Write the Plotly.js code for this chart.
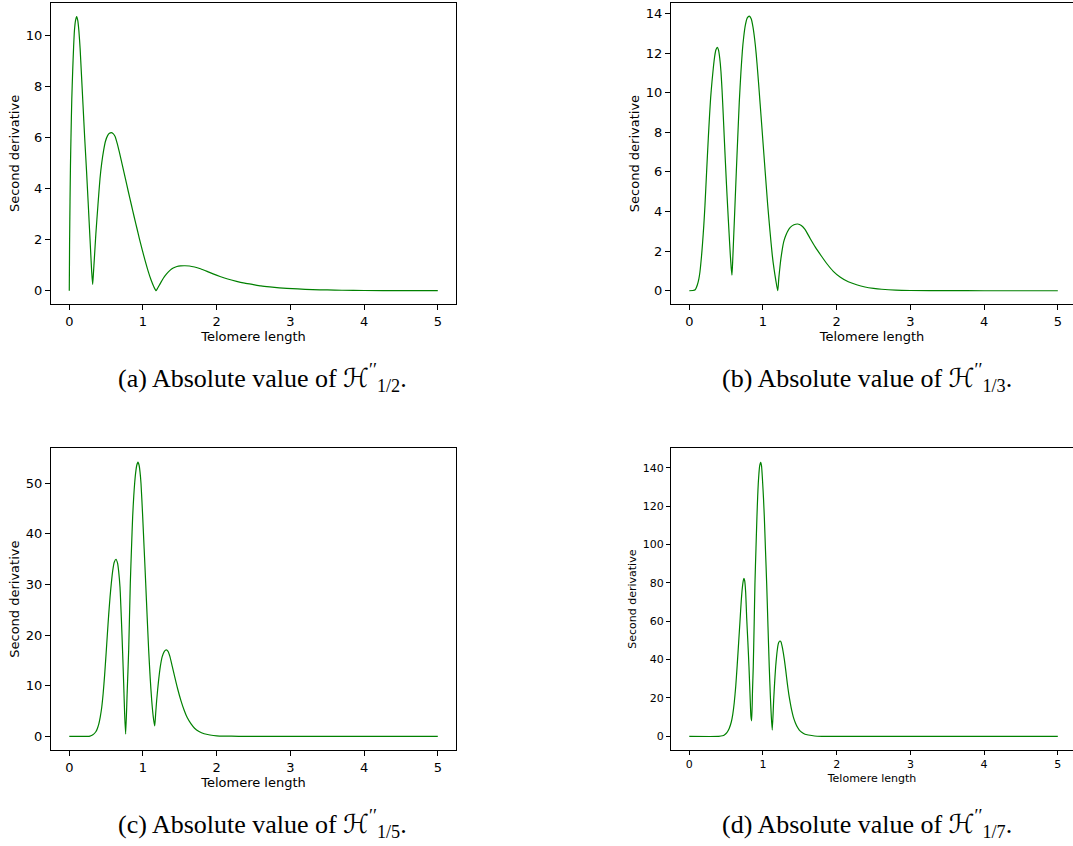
<!DOCTYPE html>
<html>
<head>
<meta charset="utf-8">
<script src="https://cdn.plot.ly/plotly-3.0.1.min.js"></script>
<style>html,body{margin:0;padding:0;background:#fff;}#chart{width:1073px;height:846px;}</style>
</head>
<body>
<div id="chart"></div>
<script>
// ---- data ----
const xA = [0, 0.004, 0.01, 0.016, 0.023, 0.034, 0.046, 0.058, 0.07, 0.085, 0.10, 0.115, 0.13, 0.147, 0.163, 0.186, 0.209, 0.234, 0.258, 0.281, 0.304, 0.317, 0.328, 0.34, 0.36, 0.389, 0.417, 0.44, 0.466, 0.49, 0.52, 0.545, 0.57, 0.595, 0.62, 0.65, 0.679, 0.72, 0.76, 0.80, 0.84, 0.88, 0.92, 0.95, 0.99, 1.03, 1.07, 1.11, 1.15, 1.178, 1.2, 1.23, 1.276, 1.32, 1.366, 1.41, 1.46, 1.51, 1.57, 1.63, 1.7, 1.78, 1.87, 1.96, 2.045, 2.15, 2.27, 2.38, 2.497, 2.6, 2.72, 2.85, 2.95, 3.1, 3.3, 3.5, 3.7, 4.0, 4.5, 5.0];
const yA = [0, 1.8, 3.5, 4.9, 6.0, 7.5, 8.6, 9.5, 10.2, 10.6, 10.75, 10.6, 10.2, 9.5, 8.6, 7.3, 6.0, 4.7, 3.36, 2.05, 0.75, 0.25, 0.7, 1.25, 2.2, 3.36, 4.4, 5.0, 5.5, 5.85, 6.08, 6.17, 6.2, 6.16, 6.06, 5.78, 5.44, 4.92, 4.41, 3.9, 3.4, 2.9, 2.42, 2.05, 1.6, 1.17, 0.77, 0.42, 0.14, 0.0, 0.11, 0.26, 0.49, 0.66, 0.8, 0.89, 0.95, 0.975, 0.98, 0.97, 0.93, 0.86, 0.76, 0.65, 0.56, 0.46, 0.37, 0.3, 0.24, 0.19, 0.15, 0.115, 0.095, 0.07, 0.045, 0.03, 0.02, 0.01, 0.003, 0.001];

const xB = [0, 0.05, 0.08, 0.11, 0.13, 0.145, 0.165, 0.18, 0.197, 0.213, 0.235, 0.258, 0.275, 0.29, 0.308, 0.326, 0.345, 0.362, 0.38, 0.397, 0.413, 0.43, 0.445, 0.46, 0.475, 0.49, 0.505, 0.521, 0.54, 0.557, 0.569, 0.579, 0.59, 0.60, 0.61, 0.62, 0.638, 0.656, 0.678, 0.701, 0.72, 0.738, 0.76, 0.787, 0.814, 0.84, 0.865, 0.887, 0.908, 0.928, 0.95, 0.973, 0.996, 1.03, 1.064, 1.095, 1.126, 1.15, 1.175, 1.2, 1.215, 1.23, 1.244, 1.26, 1.28, 1.3, 1.33, 1.37, 1.42, 1.471, 1.52, 1.57, 1.638, 1.71, 1.787, 1.87, 1.954, 2.05, 2.157, 2.27, 2.384, 2.5, 2.61, 2.8, 3.0, 3.5, 4.0, 5.0];
const yB = [0, 0.01, 0.05, 0.3, 0.6, 0.96, 1.7, 2.4, 3.3, 4.33, 6.0, 7.7, 8.85, 9.75, 10.55, 11.25, 11.85, 12.17, 12.29, 12.15, 11.75, 11.06, 10.1, 8.95, 7.7, 6.5, 5.35, 4.2, 2.9, 1.8, 1.15, 0.79, 1.6, 2.5, 3.4, 4.33, 6.0, 7.6, 9.5, 11.06, 12.1, 12.8, 13.4, 13.78, 13.87, 13.73, 13.3, 12.7, 11.95, 11.06, 10.0, 8.85, 7.7, 6.0, 4.33, 3.0, 1.8, 1.1, 0.5, 0.0, 0.65, 1.2, 1.65, 2.05, 2.45, 2.7, 2.97, 3.2, 3.33, 3.37, 3.3, 3.1, 2.65, 2.2, 1.78, 1.35, 0.98, 0.68, 0.45, 0.3, 0.19, 0.12, 0.075, 0.03, 0.012, 0.002, 0.0, 0.0];

const xC = [0, 0.25, 0.28, 0.32, 0.36, 0.38, 0.40, 0.42, 0.44, 0.46, 0.48, 0.498, 0.517, 0.535, 0.553, 0.57, 0.59, 0.61, 0.634, 0.655, 0.67, 0.688, 0.706, 0.724, 0.738, 0.751, 0.765, 0.785, 0.806, 0.828, 0.845, 0.86, 0.875, 0.887, 0.90, 0.915, 0.932, 0.948, 0.96, 0.973, 0.996, 1.016, 1.037, 1.057, 1.077, 1.098, 1.118, 1.14, 1.159, 1.172, 1.186, 1.21, 1.235, 1.26, 1.29, 1.316, 1.34, 1.365, 1.398, 1.43, 1.47, 1.516, 1.56, 1.6, 1.65, 1.7, 1.76, 1.83, 1.909, 2.0, 2.1, 2.3, 2.5, 5.0];
const yC = [0, 0, 0.05, 0.3, 0.9, 1.5, 2.4, 3.8, 5.7, 8.5, 12.2, 16.0, 20.2, 24.1, 27.5, 30.2, 32.8, 34.4, 34.98, 34.2, 32.6, 29.5, 23.5, 16.5, 10.5, 4.5, 0.45, 8.5, 17.06, 30.2, 37.5, 43.4, 47.5, 50.0, 52.0, 53.5, 54.15, 53.5, 52.2, 50.0, 43.4, 37.0, 30.2, 23.5, 17.06, 11.5, 7.17, 3.8, 2.04, 4.5, 7.17, 10.8, 13.76, 15.7, 16.8, 17.06, 16.8, 15.8, 13.76, 11.8, 9.4, 7.0, 5.1, 3.7, 2.5, 1.6, 0.95, 0.5, 0.26, 0.1, 0.04, 0.01, 0, 0];

const xD = [0, 0.4, 0.45, 0.48, 0.51, 0.54, 0.57, 0.59, 0.61, 0.63, 0.65, 0.67, 0.688, 0.705, 0.72, 0.732, 0.742, 0.752, 0.765, 0.779, 0.795, 0.81, 0.824, 0.837, 0.846, 0.858, 0.868, 0.88, 0.891, 0.905, 0.918, 0.928, 0.936, 0.945, 0.955, 0.969, 0.98, 0.988, 0.996, 1.007, 1.018, 1.034, 1.05, 1.068, 1.085, 1.1, 1.113, 1.126, 1.145, 1.158, 1.172, 1.184, 1.194, 1.205, 1.218, 1.231, 1.245, 1.267, 1.29, 1.31, 1.33, 1.35, 1.37, 1.39, 1.411, 1.44, 1.47, 1.493, 1.53, 1.57, 1.615, 1.7, 1.8, 2.0, 5.0];
const yD = [0, 0, 0.3, 0.9, 2.0, 4.0, 7.5, 11.5, 17.5, 26, 37, 49, 60, 70.5, 77.5, 81, 82.3, 81, 75, 61.6, 49, 36.3, 22, 10.2, 8.1, 24, 36.3, 58, 79.7, 98, 114.4, 125, 131.8, 137, 141, 142.8, 141, 137, 131.8, 124, 114.4, 97, 79.7, 57, 36.3, 21, 10.2, 3.3, 18.9, 28, 36.3, 41.5, 45, 47.8, 49.3, 49.7, 49.2, 45.5, 40, 34, 27.6, 22, 17.5, 13.5, 10.2, 7.0, 4.6, 3.3, 2.0, 1.1, 0.7, 0.2, 0.05, 0, 0];

const xTicks = [0, 1, 2, 3, 4, 5];
const yTicksA = [0, 2, 4, 6, 8, 10];
const yTicksB = [0, 2, 4, 6, 8, 10, 12, 14];
const yTicksC = [0, 10, 20, 30, 40, 50];
const yTicksD = [0, 20, 40, 60, 80, 100, 120, 140];

const Hc = "<span style=\"font-family:'DejaVu Sans'\">ℋ</span>";
const captions = [
  "(a) Absolute value of " + Hc + "<sup>′′</sup><sub>1/2</sub>.",
  "(b) Absolute value of " + Hc + "<sup>′′</sup><sub>1/3</sub>.",
  "(c) Absolute value of " + Hc + "<sup>′′</sup><sub>1/5</sub>.",
  "(d) Absolute value of " + Hc + "<sup>′′</sup><sub>1/7</sub>."
];
const xTitle = "Telomere length";
const yTitle = "Second derivative";

// ---- layout helpers ----
const W = 1073, H = 846;
const green = "#008000";
function line(x, y, xa, ya) {
  return {x: x, y: y, xaxis: xa, yaxis: ya, type: "scatter", mode: "lines",
          line: {color: green, width: 1.2, shape: "spline", smoothing: 0.6},
          hoverinfo: "skip", showlegend: false};
}
const data = [
  line(xA, yA, "x", "y"),
  line(xB, yB, "x2", "y2"),
  line(xC, yC, "x3", "y3"),
  line(xD, yD, "x4", "y4")
];

function xax(domPx, range, anchor, fs, tl) {
  return {domain: [domPx[0]/W, domPx[1]/W], range: range, anchor: anchor,
    tickvals: xTicks, ticks: "outside", ticklen: tl, tickwidth: 1, tickcolor: "#000",
    showline: true, linecolor: "#000", linewidth: 1, mirror: true,
    showgrid: false, zeroline: false,
    tickfont: {family: "DejaVu Sans", size: fs, color: "#000"},
    title: {text: xTitle, font: {family: "DejaVu Sans", size: fs, color: "#000"}, standoff: 4}};
}
function yax(domPx, range, anchor, ticks, fs, tl) {
  return {domain: [1 - domPx[1]/H, 1 - domPx[0]/H], range: range, anchor: anchor,
    tickvals: ticks, ticks: "outside", ticklen: tl, tickwidth: 1, tickcolor: "#000",
    showline: true, linecolor: "#000", linewidth: 1, mirror: true,
    showgrid: false, zeroline: false,
    tickfont: {family: "DejaVu Sans", size: fs, color: "#000"},
    title: {text: yTitle, font: {family: "DejaVu Sans", size: fs, color: "#000"}, standoff: 3}};
}

const capFont = {family: "Liberation Serif, DejaVu Serif, serif", size: 26, color: "#000"};
function cap(text, cx, cy) {
  return {text: text, xref: "paper", yref: "paper", x: cx/W, y: 1 - cy/H,
          xanchor: "center", yanchor: "middle", showarrow: false, font: capFont};
}

const layout = {
  width: W, height: H,
  margin: {l: 0, r: 0, t: 0, b: 0},
  paper_bgcolor: "#fff", plot_bgcolor: "#fff",
  showlegend: false,
  xaxis:  xax([51, 456], [-0.248, 5.247], "y", 13, 5),
  yaxis:  yax([3, 304], [-0.52, 11.28], "x", yTicksA, 13, 5),
  xaxis2: xax([671, 1073], [-0.248, 5.206], "y2", 13, 5),
  yaxis2: yax([3, 304], [-0.67, 14.53], "x2", yTicksB, 13, 5),
  xaxis3: xax([51, 456], [-0.248, 5.247], "y3", 13, 5),
  yaxis3: yax([448.3, 750], [-2.7, 56.9], "x3", yTicksC, 13, 5),
  xaxis4: xax([671, 1073], [-0.248, 5.206], "y4", 11, 4),
  yaxis4: yax([448.3, 750], [-7.1, 150.1], "x4", yTicksD, 11, 4),
  annotations: [
    cap(captions[0], 262, 378),
    cap(captions[1], 867, 378),
    cap(captions[2], 262, 824),
    cap(captions[3], 867, 824)
  ]
};

Plotly.newPlot("chart", data, layout, {displayModeBar: false, staticPlot: true});
</script>
</body>
</html>
